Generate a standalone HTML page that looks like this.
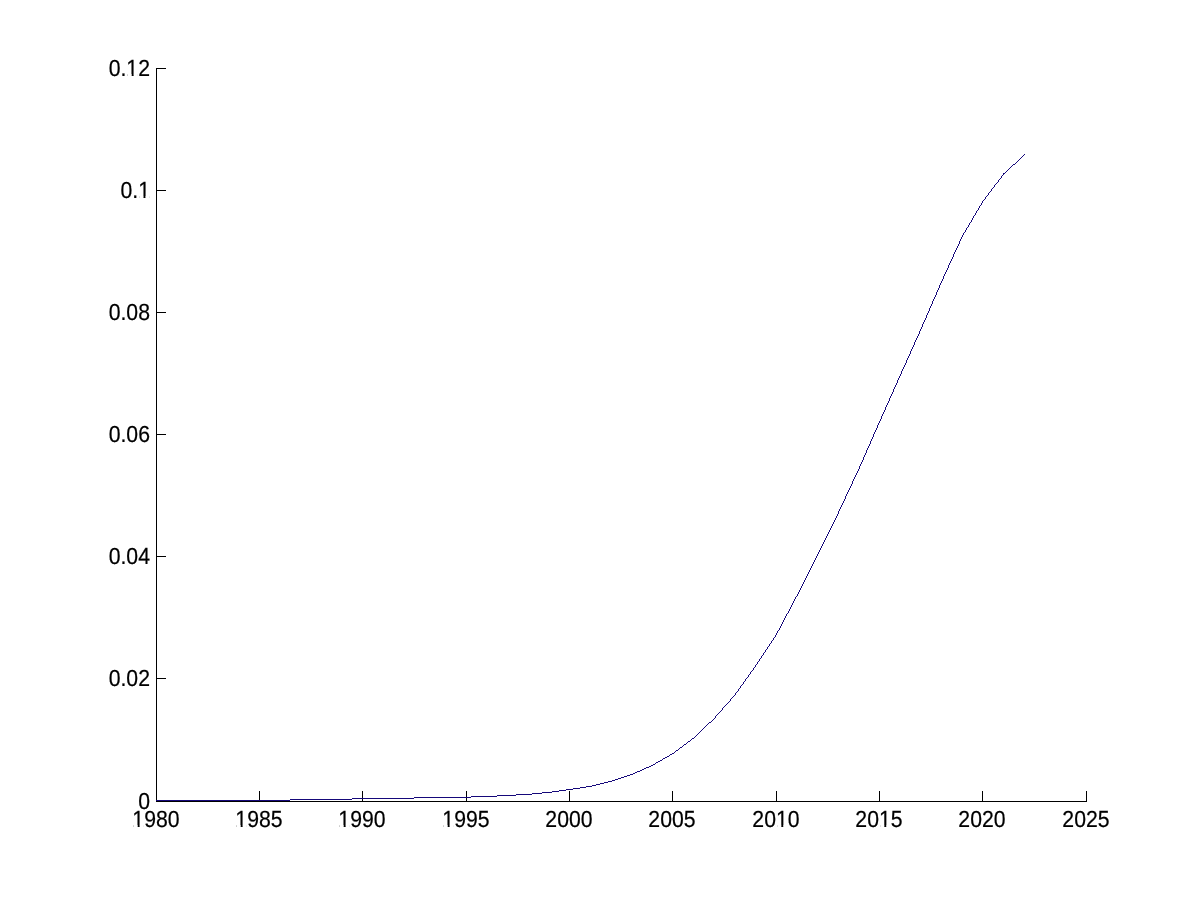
<!DOCTYPE html>
<html><head><meta charset="utf-8"><title>plot</title>
<style>
html,body{margin:0;padding:0;background:#fff;}
body{width:1200px;height:900px;overflow:hidden;}
svg{display:block;will-change:transform;}
.m{fill:#fff;shape-rendering:geometricPrecision;}
text{font-family:"Liberation Sans",sans-serif;font-size:20.83px;fill:#000;stroke:#000;stroke-width:0.2px;text-rendering:geometricPrecision;}
</style></head><body>
<svg width="1200" height="900" viewBox="0 0 1200 900" shape-rendering="crispEdges">
<rect x="0" y="0" width="1200" height="900" fill="#fff"/>
<rect x="156" y="68" width="1" height="734" fill="#000"/>
<rect x="156" y="801" width="931" height="1" fill="#000"/>
<g transform="translate(156.0 827.0) scale(1.02 1.1186)"><text x="0" y="0" text-anchor="middle">1980</text><rect class="m" x="-21.949" y="-1.780" width="3.987" height="2.034"/><rect class="m" x="-16.060" y="-1.780" width="3.824" height="2.034"/></g>
<rect x="259" y="791" width="1" height="10" fill="#000"/>
<g transform="translate(259.0 827.0) scale(1.02 1.1186)"><text x="0" y="0" text-anchor="middle">1985</text><rect class="m" x="-21.949" y="-1.780" width="3.987" height="2.034"/><rect class="m" x="-16.060" y="-1.780" width="3.824" height="2.034"/></g>
<rect x="362" y="791" width="1" height="10" fill="#000"/>
<g transform="translate(362.0 827.0) scale(1.02 1.1186)"><text x="0" y="0" text-anchor="middle">1990</text><rect class="m" x="-21.949" y="-1.780" width="3.987" height="2.034"/><rect class="m" x="-16.060" y="-1.780" width="3.824" height="2.034"/></g>
<rect x="466" y="791" width="1" height="10" fill="#000"/>
<g transform="translate(466.0 827.0) scale(1.02 1.1186)"><text x="0" y="0" text-anchor="middle">1995</text><rect class="m" x="-21.949" y="-1.780" width="3.987" height="2.034"/><rect class="m" x="-16.060" y="-1.780" width="3.824" height="2.034"/></g>
<rect x="569" y="791" width="1" height="10" fill="#000"/>
<g transform="translate(569.0 827.0) scale(1.02 1.1186)"><text x="0" y="0" text-anchor="middle">2000</text></g>
<rect x="672" y="791" width="1" height="10" fill="#000"/>
<g transform="translate(672.0 827.0) scale(1.02 1.1186)"><text x="0" y="0" text-anchor="middle">2005</text></g>
<rect x="776" y="791" width="1" height="10" fill="#000"/>
<g transform="translate(776.0 827.0) scale(1.02 1.1186)"><text x="0" y="0" text-anchor="middle">2010</text><rect class="m" x="1.221" y="-1.780" width="3.987" height="2.034"/><rect class="m" x="7.109" y="-1.780" width="3.824" height="2.034"/></g>
<rect x="879" y="791" width="1" height="10" fill="#000"/>
<g transform="translate(879.0 827.0) scale(1.02 1.1186)"><text x="0" y="0" text-anchor="middle">2015</text><rect class="m" x="1.221" y="-1.780" width="3.987" height="2.034"/><rect class="m" x="7.109" y="-1.780" width="3.824" height="2.034"/></g>
<rect x="982" y="791" width="1" height="10" fill="#000"/>
<g transform="translate(982.0 827.0) scale(1.02 1.1186)"><text x="0" y="0" text-anchor="middle">2020</text></g>
<rect x="1086" y="791" width="1" height="10" fill="#000"/>
<g transform="translate(1086.0 827.0) scale(1.02 1.1186)"><text x="0" y="0" text-anchor="middle">2025</text></g>
<g transform="translate(150.0 809.0) scale(1.02 1.1186)"><text x="0" y="0" text-anchor="end">0</text></g>
<rect x="157" y="678" width="9" height="1" fill="#000"/>
<g transform="translate(150.0 686.0) scale(1.02 1.1186)"><text x="0" y="0" text-anchor="end">0.02</text></g>
<rect x="157" y="556" width="9" height="1" fill="#000"/>
<g transform="translate(150.0 564.0) scale(1.02 1.1186)"><text x="0" y="0" text-anchor="end">0.04</text></g>
<rect x="157" y="434" width="9" height="1" fill="#000"/>
<g transform="translate(150.0 442.0) scale(1.02 1.1186)"><text x="0" y="0" text-anchor="end">0.06</text></g>
<rect x="157" y="312" width="9" height="1" fill="#000"/>
<g transform="translate(150.0 320.0) scale(1.02 1.1186)"><text x="0" y="0" text-anchor="end">0.08</text></g>
<rect x="157" y="190" width="9" height="1" fill="#000"/>
<g transform="translate(150.0 198.0) scale(1.02 1.1186)"><text x="0" y="0" text-anchor="end">0.1</text><rect class="m" x="-10.364" y="-1.780" width="3.987" height="2.034"/><rect class="m" x="-4.475" y="-1.780" width="3.824" height="2.034"/></g>
<rect x="157" y="68" width="9" height="1" fill="#000"/>
<g transform="translate(150.0 76.0) scale(1.02 1.1186)"><text x="0" y="0" text-anchor="end">0.12</text><rect class="m" x="-21.949" y="-1.780" width="3.987" height="2.034"/><rect class="m" x="-16.060" y="-1.780" width="3.824" height="2.034"/></g>
<path d="M1024 154h1v1h-1zM1023 155h1v1h-1zM1022 156h1v1h-1zM1021 157h1v1h-1zM1020 158h1v1h-1zM1019 159h1v1h-1zM1018 160h1v1h-1zM1017 161h1v1h-1zM1016 162h1v1h-1zM1015 163h1v1h-1zM1013 164h2v1h-2zM1012 165h1v1h-1zM1011 166h1v1h-1zM1010 167h1v1h-1zM1009 168h1v1h-1zM1008 169h1v1h-1zM1007 170h1v1h-1zM1006 171h1v1h-1zM1005 172h1v1h-1zM1003 173h2v1h-2zM1003 174h1v1h-1zM1002 175h1v1h-1zM1001 176h1v1h-1zM1001 177h1v1h-1zM1000 178h1v1h-1zM999 179h1v1h-1zM998 180h1v1h-1zM998 181h1v1h-1zM997 182h1v1h-1zM996 183h1v1h-1zM995 184h1v1h-1zM994 185h1v1h-1zM994 186h1v1h-1zM993 187h1v1h-1zM992 188h1v1h-1zM991 189h1v1h-1zM991 190h1v1h-1zM990 191h1v1h-1zM989 192h1v1h-1zM988 193h1v1h-1zM988 194h1v1h-1zM987 195h1v1h-1zM986 196h1v1h-1zM985 197h1v1h-1zM985 198h1v1h-1zM984 199h1v1h-1zM983 200h1v1h-1zM982 201h1v1h-1zM982 202h1v1h-1zM981 203h1v1h-1zM981 204h1v1h-1zM980 205h1v1h-1zM979 206h1v1h-1zM979 207h1v1h-1zM978 208h1v1h-1zM978 209h1v1h-1zM977 210h1v1h-1zM976 211h1v1h-1zM976 212h1v1h-1zM975 213h1v1h-1zM975 214h1v1h-1zM974 215h1v1h-1zM973 216h1v1h-1zM973 217h1v1h-1zM972 218h1v1h-1zM972 219h1v1h-1zM971 220h1v1h-1zM971 221h1v1h-1zM970 222h1v1h-1zM969 223h1v1h-1zM969 224h1v1h-1zM968 225h1v1h-1zM968 226h1v1h-1zM967 227h1v1h-1zM966 228h1v1h-1zM966 229h1v1h-1zM965 230h1v1h-1zM965 231h1v1h-1zM964 232h1v1h-1zM963 233h1v1h-1zM963 234h1v1h-1zM962 235h1v1h-1zM962 236h1v1h-1zM961 237h1v1h-1zM961 238h1v1h-1zM960 239h1v1h-1zM960 240h1v1h-1zM959 241h1v1h-1zM959 242h1v1h-1zM959 243h1v1h-1zM958 244h1v1h-1zM958 245h1v1h-1zM957 246h1v1h-1zM957 247h1v1h-1zM956 248h1v1h-1zM956 249h1v1h-1zM955 250h1v1h-1zM955 251h1v1h-1zM954 252h1v1h-1zM954 253h1v1h-1zM953 254h1v1h-1zM953 255h1v1h-1zM953 256h1v1h-1zM952 257h1v1h-1zM952 258h1v1h-1zM951 259h1v1h-1zM951 260h1v1h-1zM950 261h1v1h-1zM950 262h1v1h-1zM949 263h1v1h-1zM949 264h1v1h-1zM948 265h1v1h-1zM948 266h1v1h-1zM948 267h1v1h-1zM947 268h1v1h-1zM947 269h1v1h-1zM946 270h1v1h-1zM946 271h1v1h-1zM945 272h1v1h-1zM945 273h1v1h-1zM944 274h1v1h-1zM944 275h1v1h-1zM943 276h1v1h-1zM943 277h1v1h-1zM943 278h1v1h-1zM942 279h1v1h-1zM942 280h1v1h-1zM941 281h1v1h-1zM941 282h1v1h-1zM940 283h1v1h-1zM940 284h1v1h-1zM939 285h1v1h-1zM939 286h1v1h-1zM939 287h1v1h-1zM938 288h1v1h-1zM938 289h1v1h-1zM937 290h1v1h-1zM937 291h1v1h-1zM936 292h1v1h-1zM936 293h1v1h-1zM936 294h1v1h-1zM935 295h1v1h-1zM935 296h1v1h-1zM934 297h1v1h-1zM934 298h1v1h-1zM933 299h1v1h-1zM933 300h1v1h-1zM932 301h1v1h-1zM932 302h1v1h-1zM932 303h1v1h-1zM931 304h1v1h-1zM931 305h1v1h-1zM930 306h1v1h-1zM930 307h1v1h-1zM929 308h1v1h-1zM929 309h1v1h-1zM929 310h1v1h-1zM928 311h1v1h-1zM928 312h1v1h-1zM927 313h1v1h-1zM927 314h1v1h-1zM926 315h1v1h-1zM926 316h1v1h-1zM926 317h1v1h-1zM925 318h1v1h-1zM925 319h1v1h-1zM924 320h1v1h-1zM924 321h1v1h-1zM923 322h1v1h-1zM923 323h1v1h-1zM922 324h1v1h-1zM922 325h1v1h-1zM922 326h1v1h-1zM921 327h1v1h-1zM921 328h1v1h-1zM920 329h1v1h-1zM920 330h1v1h-1zM919 331h1v1h-1zM919 332h1v1h-1zM919 333h1v1h-1zM918 334h1v1h-1zM918 335h1v1h-1zM917 336h1v1h-1zM917 337h1v1h-1zM916 338h1v1h-1zM916 339h1v1h-1zM915 340h1v1h-1zM915 341h1v1h-1zM914 342h1v1h-1zM914 343h1v1h-1zM914 344h1v1h-1zM913 345h1v1h-1zM913 346h1v1h-1zM912 347h1v1h-1zM912 348h1v1h-1zM911 349h1v1h-1zM911 350h1v1h-1zM910 351h1v1h-1zM910 352h1v1h-1zM910 353h1v1h-1zM909 354h1v1h-1zM909 355h1v1h-1zM908 356h1v1h-1zM908 357h1v1h-1zM907 358h1v1h-1zM907 359h1v1h-1zM906 360h1v1h-1zM906 361h1v1h-1zM906 362h1v1h-1zM905 363h1v1h-1zM905 364h1v1h-1zM904 365h1v1h-1zM904 366h1v1h-1zM903 367h1v1h-1zM903 368h1v1h-1zM902 369h1v1h-1zM902 370h1v1h-1zM901 371h1v1h-1zM901 372h1v1h-1zM901 373h1v1h-1zM900 374h1v1h-1zM900 375h1v1h-1zM899 376h1v1h-1zM899 377h1v1h-1zM898 378h1v1h-1zM898 379h1v1h-1zM897 380h1v1h-1zM897 381h1v1h-1zM897 382h1v1h-1zM896 383h1v1h-1zM896 384h1v1h-1zM895 385h1v1h-1zM895 386h1v1h-1zM894 387h1v1h-1zM894 388h1v1h-1zM893 389h1v1h-1zM893 390h1v1h-1zM893 391h1v1h-1zM892 392h1v1h-1zM892 393h1v1h-1zM891 394h1v1h-1zM891 395h1v1h-1zM890 396h1v1h-1zM890 397h1v1h-1zM889 398h1v1h-1zM889 399h1v1h-1zM889 400h1v1h-1zM888 401h1v1h-1zM888 402h1v1h-1zM887 403h1v1h-1zM887 404h1v1h-1zM886 405h1v1h-1zM886 406h1v1h-1zM885 407h1v1h-1zM885 408h1v1h-1zM885 409h1v1h-1zM884 410h1v1h-1zM884 411h1v1h-1zM883 412h1v1h-1zM883 413h1v1h-1zM882 414h1v1h-1zM882 415h1v1h-1zM881 416h1v1h-1zM881 417h1v1h-1zM881 418h1v1h-1zM880 419h1v1h-1zM880 420h1v1h-1zM879 421h1v1h-1zM879 422h1v1h-1zM878 423h1v1h-1zM878 424h1v1h-1zM877 425h1v1h-1zM877 426h1v1h-1zM877 427h1v1h-1zM876 428h1v1h-1zM876 429h1v1h-1zM875 430h1v1h-1zM875 431h1v1h-1zM874 432h1v1h-1zM874 433h1v1h-1zM873 434h1v1h-1zM873 435h1v1h-1zM873 436h1v1h-1zM872 437h1v1h-1zM872 438h1v1h-1zM871 439h1v1h-1zM871 440h1v1h-1zM870 441h1v1h-1zM870 442h1v1h-1zM870 443h1v1h-1zM869 444h1v1h-1zM869 445h1v1h-1zM868 446h1v1h-1zM868 447h1v1h-1zM867 448h1v1h-1zM867 449h1v1h-1zM866 450h1v1h-1zM866 451h1v1h-1zM866 452h1v1h-1zM865 453h1v1h-1zM865 454h1v1h-1zM864 455h1v1h-1zM864 456h1v1h-1zM863 457h1v1h-1zM863 458h1v1h-1zM863 459h1v1h-1zM862 460h1v1h-1zM862 461h1v1h-1zM861 462h1v1h-1zM861 463h1v1h-1zM860 464h1v1h-1zM860 465h1v1h-1zM859 466h1v1h-1zM859 467h1v1h-1zM859 468h1v1h-1zM858 469h1v1h-1zM858 470h1v1h-1zM857 471h1v1h-1zM857 472h1v1h-1zM856 473h1v1h-1zM856 474h1v1h-1zM855 475h1v1h-1zM855 476h1v1h-1zM854 477h1v1h-1zM854 478h1v1h-1zM853 479h1v1h-1zM853 480h1v1h-1zM852 481h1v1h-1zM852 482h1v1h-1zM852 483h1v1h-1zM851 484h1v1h-1zM851 485h1v1h-1zM850 486h1v1h-1zM850 487h1v1h-1zM849 488h1v1h-1zM849 489h1v1h-1zM848 490h1v1h-1zM848 491h1v1h-1zM847 492h1v1h-1zM847 493h1v1h-1zM846 494h1v1h-1zM846 495h1v1h-1zM845 496h1v1h-1zM845 497h1v1h-1zM845 498h1v1h-1zM844 499h1v1h-1zM844 500h1v1h-1zM843 501h1v1h-1zM843 502h1v1h-1zM842 503h1v1h-1zM842 504h1v1h-1zM841 505h1v1h-1zM841 506h1v1h-1zM840 507h1v1h-1zM840 508h1v1h-1zM839 509h1v1h-1zM839 510h1v1h-1zM838 511h1v1h-1zM838 512h1v1h-1zM838 513h1v1h-1zM837 514h1v1h-1zM837 515h1v1h-1zM836 516h1v1h-1zM836 517h1v1h-1zM835 518h1v1h-1zM835 519h1v1h-1zM834 520h1v1h-1zM834 521h1v1h-1zM833 522h1v1h-1zM833 523h1v1h-1zM832 524h1v1h-1zM832 525h1v1h-1zM831 526h1v1h-1zM831 527h1v1h-1zM830 528h1v1h-1zM830 529h1v1h-1zM829 530h1v1h-1zM829 531h1v1h-1zM828 532h1v1h-1zM828 533h1v1h-1zM827 534h1v1h-1zM827 535h1v1h-1zM826 536h1v1h-1zM826 537h1v1h-1zM825 538h1v1h-1zM825 539h1v1h-1zM824 540h1v1h-1zM824 541h1v1h-1zM823 542h1v1h-1zM823 543h1v1h-1zM822 544h1v1h-1zM822 545h1v1h-1zM821 546h1v1h-1zM821 547h1v1h-1zM820 548h1v1h-1zM820 549h1v1h-1zM819 550h1v1h-1zM819 551h1v1h-1zM818 552h1v1h-1zM818 553h1v1h-1zM817 554h1v1h-1zM817 555h1v1h-1zM816 556h1v1h-1zM816 557h1v1h-1zM815 558h1v1h-1zM815 559h1v1h-1zM814 560h1v1h-1zM814 561h1v1h-1zM813 562h1v1h-1zM813 563h1v1h-1zM812 564h1v1h-1zM812 565h1v1h-1zM811 566h1v1h-1zM811 567h1v1h-1zM810 568h1v1h-1zM810 569h1v1h-1zM809 570h1v1h-1zM809 571h1v1h-1zM808 572h1v1h-1zM808 573h1v1h-1zM807 574h1v1h-1zM807 575h1v1h-1zM806 576h1v1h-1zM806 577h1v1h-1zM805 578h1v1h-1zM805 579h1v1h-1zM804 580h1v1h-1zM804 581h1v1h-1zM803 582h1v1h-1zM803 583h1v1h-1zM802 584h1v1h-1zM802 585h1v1h-1zM801 586h1v1h-1zM801 587h1v1h-1zM800 588h1v1h-1zM800 589h1v1h-1zM799 590h1v1h-1zM799 591h1v1h-1zM798 592h1v1h-1zM798 593h1v1h-1zM797 594h1v1h-1zM797 595h1v1h-1zM796 596h1v1h-1zM795 597h1v1h-1zM795 598h1v1h-1zM794 599h1v1h-1zM794 600h1v1h-1zM793 601h1v1h-1zM793 602h1v1h-1zM792 603h1v1h-1zM792 604h1v1h-1zM791 605h1v1h-1zM791 606h1v1h-1zM790 607h1v1h-1zM790 608h1v1h-1zM789 609h1v1h-1zM789 610h1v1h-1zM788 611h1v1h-1zM788 612h1v1h-1zM787 613h1v1h-1zM786 614h1v1h-1zM786 615h1v1h-1zM785 616h1v1h-1zM785 617h1v1h-1zM784 618h1v1h-1zM784 619h1v1h-1zM783 620h1v1h-1zM783 621h1v1h-1zM782 622h1v1h-1zM782 623h1v1h-1zM781 624h1v1h-1zM781 625h1v1h-1zM780 626h1v1h-1zM780 627h1v1h-1zM779 628h1v1h-1zM779 629h1v1h-1zM778 630h1v1h-1zM777 631h1v1h-1zM777 632h1v1h-1zM776 633h1v1h-1zM776 634h1v1h-1zM775 635h1v1h-1zM775 636h1v1h-1zM774 637h1v1h-1zM773 638h1v1h-1zM773 639h1v1h-1zM772 640h1v1h-1zM771 641h1v1h-1zM771 642h1v1h-1zM770 643h1v1h-1zM769 644h1v1h-1zM769 645h1v1h-1zM768 646h1v1h-1zM767 647h1v1h-1zM767 648h1v1h-1zM766 649h1v1h-1zM765 650h1v1h-1zM765 651h1v1h-1zM764 652h1v1h-1zM763 653h1v1h-1zM763 654h1v1h-1zM762 655h1v1h-1zM761 656h1v1h-1zM761 657h1v1h-1zM760 658h1v1h-1zM759 659h1v1h-1zM759 660h1v1h-1zM758 661h1v1h-1zM757 662h1v1h-1zM757 663h1v1h-1zM756 664h1v1h-1zM755 665h1v1h-1zM755 666h1v1h-1zM754 667h1v1h-1zM753 668h1v1h-1zM753 669h1v1h-1zM752 670h1v1h-1zM751 671h1v1h-1zM750 672h1v1h-1zM750 673h1v1h-1zM749 674h1v1h-1zM748 675h1v1h-1zM748 676h1v1h-1zM747 677h1v1h-1zM746 678h1v1h-1zM745 679h1v1h-1zM745 680h1v1h-1zM744 681h1v1h-1zM743 682h1v1h-1zM743 683h1v1h-1zM742 684h1v1h-1zM741 685h1v1h-1zM740 686h1v1h-1zM740 687h1v1h-1zM739 688h1v1h-1zM738 689h1v1h-1zM738 690h1v1h-1zM737 691h1v1h-1zM736 692h1v1h-1zM735 693h1v1h-1zM735 694h1v1h-1zM734 695h1v1h-1zM733 696h1v1h-1zM732 697h1v1h-1zM731 698h1v1h-1zM730 699h1v1h-1zM730 700h1v1h-1zM729 701h1v1h-1zM728 702h1v1h-1zM727 703h1v1h-1zM726 704h1v1h-1zM725 705h1v1h-1zM724 706h1v1h-1zM723 707h1v1h-1zM722 708h1v1h-1zM722 709h1v1h-1zM721 710h1v1h-1zM720 711h1v1h-1zM719 712h1v1h-1zM718 713h1v1h-1zM717 714h1v1h-1zM716 715h1v1h-1zM715 716h1v1h-1zM715 717h1v1h-1zM714 718h1v1h-1zM713 719h1v1h-1zM712 720h1v1h-1zM711 721h1v1h-1zM709 722h2v1h-2zM708 723h1v1h-1zM707 724h1v1h-1zM706 725h1v1h-1zM705 726h1v1h-1zM704 727h1v1h-1zM703 728h1v1h-1zM702 729h1v1h-1zM701 730h1v1h-1zM700 731h1v1h-1zM699 732h1v1h-1zM698 733h1v1h-1zM697 734h1v1h-1zM696 735h1v1h-1zM695 736h1v1h-1zM694 737h1v1h-1zM692 738h2v1h-2zM691 739h1v1h-1zM690 740h1v1h-1zM688 741h2v1h-2zM687 742h1v1h-1zM686 743h1v1h-1zM684 744h2v1h-2zM683 745h1v1h-1zM682 746h1v1h-1zM680 747h2v1h-2zM679 748h1v1h-1zM678 749h1v1h-1zM676 750h2v1h-2zM675 751h1v1h-1zM674 752h1v1h-1zM672 753h2v1h-2zM670 754h2v1h-2zM669 755h1v1h-1zM667 756h2v1h-2zM665 757h2v1h-2zM663 758h2v1h-2zM662 759h1v1h-1zM660 760h2v1h-2zM658 761h2v1h-2zM656 762h2v1h-2zM655 763h1v1h-1zM653 764h2v1h-2zM651 765h2v1h-2zM649 766h2v1h-2zM646 767h3v1h-3zM644 768h2v1h-2zM642 769h2v1h-2zM640 770h2v1h-2zM637 771h3v1h-3zM635 772h2v1h-2zM633 773h2v1h-2zM630 774h3v1h-3zM627 775h3v1h-3zM624 776h3v1h-3zM621 777h3v1h-3zM618 778h3v1h-3zM615 779h3v1h-3zM612 780h3v1h-3zM608 781h4v1h-4zM604 782h4v1h-4zM600 783h4v1h-4zM596 784h4v1h-4zM592 785h4v1h-4zM586 786h6v1h-6zM580 787h6v1h-6zM573 788h7v1h-7zM566 789h7v1h-7zM559 790h7v1h-7zM552 791h7v1h-7zM542 792h10v1h-10zM532 793h10v1h-10zM516 794h16v1h-16zM497 795h19v1h-19zM471 796h26v1h-26zM414 797h57v1h-57zM352 798h62v1h-62zM290 799h62v1h-62zM156 800h134v1h-134z" fill="#15087a"/>
</svg>
</body></html>
